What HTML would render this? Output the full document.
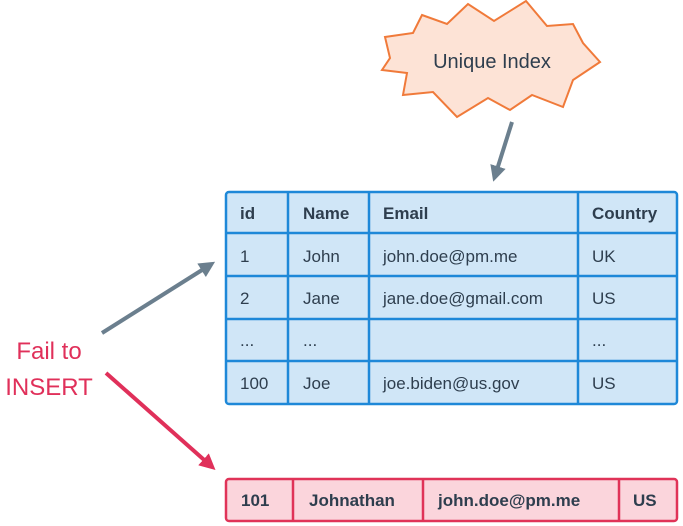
<!DOCTYPE html>
<html><head><meta charset="utf-8"><style>html,body{margin:0;padding:0;background:#fff;}svg{display:block;}</style></head>
<body>
<svg width="683" height="526" viewBox="0 0 683 526" xmlns="http://www.w3.org/2000/svg" font-family="Liberation Sans, sans-serif">
<defs>
<marker id="ag" markerWidth="4" markerHeight="4" refX="2.5" refY="2" orient="auto"><path d="M0,0 L4,2 L0,4 z" fill="#6b7f8e"/></marker>
<marker id="ar" markerWidth="4" markerHeight="4" refX="2.5" refY="2" orient="auto"><path d="M0,0 L4,2 L0,4 z" fill="#e0305a"/></marker>
</defs>
<polygon points="422,15 447,24 468,4 494,21 526,1 547,26 573,24 583,43 600,62 573,80 563,107 532,95 510,110 488,98 457,117 433,92 403,95 407,73 382,70 390,58 385,37 413,33" fill="#fde3d6" stroke="#f07a3a" stroke-width="2"/>
<text x="492" y="68" font-size="20" fill="#2e3e4e" text-anchor="middle">Unique Index</text>
<line x1="512" y1="122" x2="495" y2="176" stroke="#6b7f8e" stroke-width="4" marker-end="url(#ag)"/>
<line x1="102" y1="333" x2="210" y2="265" stroke="#6b7f8e" stroke-width="4" marker-end="url(#ag)"/>
<line x1="106" y1="373" x2="211" y2="466" stroke="#e0305a" stroke-width="4" marker-end="url(#ar)"/>
<text x="49" y="359" font-size="24" fill="#e0305a" text-anchor="middle">Fail to</text>
<text x="49" y="395" font-size="24" fill="#e0305a" text-anchor="middle">INSERT</text>
<rect x="226" y="192" width="451" height="212" rx="3" fill="#d0e6f7" stroke="#1e88d8" stroke-width="2.5"/>
<g stroke="#1e88d8" stroke-width="2.5">
<line x1="288" y1="192" x2="288" y2="404"/><line x1="369" y1="192" x2="369" y2="404"/><line x1="578" y1="192" x2="578" y2="404"/>
<line x1="226" y1="233" x2="677" y2="233"/><line x1="226" y1="276" x2="677" y2="276"/><line x1="226" y1="319" x2="677" y2="319"/><line x1="226" y1="361" x2="677" y2="361"/>
</g>
<g font-size="17" fill="#2e3e4e">
<g font-weight="bold"><text x="240" y="219">id</text><text x="303" y="219">Name</text><text x="383" y="219">Email</text><text x="592" y="219">Country</text></g>
<text x="240" y="262">1</text><text x="303" y="262">John</text><text x="383" y="262">john.doe@pm.me</text><text x="592" y="262">UK</text>
<text x="240" y="304">2</text><text x="303" y="304">Jane</text><text x="383" y="304">jane.doe@gmail.com</text><text x="592" y="304">US</text>
<text x="240" y="346">...</text><text x="303" y="346">...</text><text x="592" y="346">...</text>
<text x="240" y="389">100</text><text x="303" y="389">Joe</text><text x="383" y="389">joe.biden@us.gov</text><text x="592" y="389">US</text>
</g>
<rect x="226" y="479" width="451" height="42" rx="3" fill="#fbd5dc" stroke="#e03358" stroke-width="2.5"/>
<g stroke="#e03358" stroke-width="2.5"><line x1="293" y1="479" x2="293" y2="521"/><line x1="423" y1="479" x2="423" y2="521"/><line x1="619" y1="479" x2="619" y2="521"/></g>
<g font-size="17" font-weight="bold" fill="#2e3e4e">
<text x="241" y="506">101</text><text x="309" y="506">Johnathan</text><text x="438" y="506">john.doe@pm.me</text><text x="633" y="506">US</text>
</g>
</svg>
</body></html>
